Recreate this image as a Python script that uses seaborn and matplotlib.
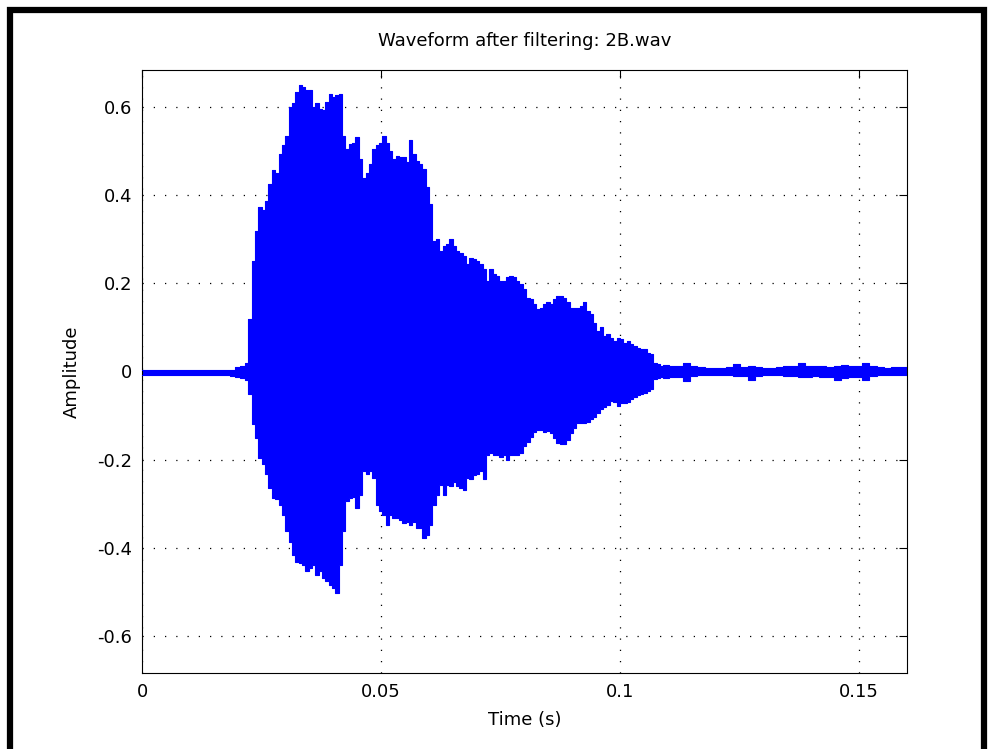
import matplotlib
matplotlib.use("Agg")
import matplotlib.pyplot as plt
import pandas as pd
import seaborn as sns
from matplotlib.patches import Rectangle

# Envelope of the filtered recording 2B.wav (seconds, amplitude)
# Quiet lead-in before the onset
lead_time = [0.000, 0.002, 0.004, 0.006, 0.008, 0.010, 0.012, 0.014,
             0.016, 0.018, 0.019, 0.020, 0.021, 0.0219]
lead_upper = [0.004, 0.003, 0.004, 0.003, 0.004, 0.004, 0.003, 0.004,
              0.004, 0.003, 0.004, 0.011, 0.012, 0.020]
lead_lower = [-0.007, -0.008, -0.007, -0.008, -0.008, -0.007, -0.008, -0.008,
              -0.007, -0.009, -0.010, -0.013, -0.014, -0.020]

# Main burst
burst_time = [
    0.0226, 0.0233, 0.0240, 0.0247, 0.0254, 0.0261, 0.0268, 0.0275, 0.0282, 0.0289,
    0.0296, 0.0303, 0.0310, 0.0317, 0.0324, 0.0331, 0.0338, 0.0345, 0.0352, 0.0359,
    0.0366, 0.0373, 0.0380, 0.0387, 0.0394, 0.0401, 0.0408, 0.0415, 0.0422, 0.0429,
    0.0436, 0.0443, 0.0450, 0.0457, 0.0464, 0.0471, 0.0478, 0.0485, 0.0492, 0.0499,
    0.0506, 0.0513, 0.0520, 0.0527, 0.0534, 0.0541, 0.0548, 0.0555, 0.0562, 0.0569,
    0.0576, 0.0583, 0.0590, 0.0597, 0.0604, 0.0611, 0.0618, 0.0625, 0.0632, 0.0639,
    0.0646, 0.0653, 0.0660, 0.0667, 0.0674, 0.0681, 0.0688, 0.0695, 0.0702, 0.0709,
    0.0716, 0.0723, 0.0730, 0.0737, 0.0744, 0.0751, 0.0758, 0.0765, 0.0772, 0.0779,
    0.0786, 0.0793, 0.0800, 0.0807, 0.0814, 0.0821, 0.0828, 0.0835, 0.0842, 0.0849,
    0.0856, 0.0863, 0.0870, 0.0877, 0.0884, 0.0891, 0.0898, 0.0905, 0.0912, 0.0919,
    0.0926, 0.0933, 0.0940, 0.0947, 0.0954, 0.0961, 0.0968, 0.0975, 0.0982, 0.0989,
    0.0996, 0.1003, 0.1010, 0.1017, 0.1024, 0.1031, 0.1038, 0.1045, 0.1052, 0.1059,
    0.1066, 0.1073, 0.1080, 0.1087]
burst_upper = [
    0.120, 0.250, 0.320, 0.373, 0.366, 0.388, 0.427, 0.457, 0.450, 0.495,
    0.514, 0.536, 0.601, 0.609, 0.635, 0.650, 0.647, 0.640, 0.639, 0.601,
    0.609, 0.597, 0.594, 0.612, 0.631, 0.624, 0.628, 0.631, 0.536, 0.505,
    0.517, 0.520, 0.533, 0.483, 0.440, 0.450, 0.472, 0.505, 0.514, 0.520,
    0.536, 0.520, 0.502, 0.483, 0.490, 0.487, 0.487, 0.476, 0.525, 0.495,
    0.479, 0.472, 0.460, 0.419, 0.381, 0.297, 0.300, 0.274, 0.285, 0.290,
    0.300, 0.286, 0.274, 0.270, 0.263, 0.244, 0.259, 0.255, 0.252, 0.244,
    0.233, 0.206, 0.233, 0.221, 0.217, 0.206, 0.206, 0.214, 0.217, 0.214,
    0.206, 0.199, 0.187, 0.168, 0.165, 0.153, 0.142, 0.145, 0.153, 0.157,
    0.153, 0.165, 0.172, 0.172, 0.168, 0.157, 0.145, 0.145, 0.145, 0.149,
    0.157, 0.138, 0.130, 0.111, 0.092, 0.100, 0.081, 0.085, 0.077, 0.069,
    0.077, 0.073, 0.065, 0.069, 0.062, 0.058, 0.054, 0.050, 0.050, 0.043,
    0.039, 0.020, 0.016, 0.012]
burst_lower = [
    -0.050, -0.120, -0.151, -0.196, -0.211, -0.234, -0.265, -0.287, -0.290, -0.303,
    -0.325, -0.363, -0.387, -0.416, -0.432, -0.436, -0.439, -0.454, -0.447, -0.439,
    -0.462, -0.454, -0.470, -0.477, -0.485, -0.492, -0.504, -0.439, -0.363, -0.295,
    -0.287, -0.284, -0.311, -0.280, -0.227, -0.234, -0.227, -0.242, -0.303, -0.318,
    -0.325, -0.348, -0.325, -0.333, -0.333, -0.337, -0.344, -0.341, -0.348, -0.341,
    -0.356, -0.356, -0.379, -0.371, -0.348, -0.303, -0.280, -0.257, -0.280, -0.257,
    -0.261, -0.250, -0.260, -0.265, -0.270, -0.242, -0.245, -0.236, -0.234, -0.227,
    -0.245, -0.189, -0.185, -0.190, -0.189, -0.195, -0.189, -0.200, -0.189, -0.190,
    -0.189, -0.185, -0.170, -0.160, -0.148, -0.138, -0.133, -0.132, -0.138, -0.136,
    -0.140, -0.150, -0.162, -0.164, -0.164, -0.155, -0.140, -0.128, -0.117, -0.117,
    -0.118, -0.115, -0.109, -0.103, -0.095, -0.086, -0.080, -0.075, -0.067, -0.069,
    -0.078, -0.071, -0.071, -0.069, -0.062, -0.058, -0.054, -0.050, -0.048, -0.045,
    -0.040, -0.018, -0.015, -0.013]

# Residual noise after the burst
tail_time = [0.1094, 0.1109, 0.1124, 0.1139, 0.1154, 0.1169, 0.1184, 0.1199,
             0.1214, 0.1229, 0.1244, 0.1259, 0.1274, 0.1289, 0.1304, 0.1319,
             0.1334, 0.1349, 0.1364, 0.1379, 0.1394, 0.1409, 0.1424, 0.1439,
             0.1454, 0.1469, 0.1484, 0.1499, 0.1514, 0.1529, 0.1544, 0.1559,
             0.1574, 0.1589, 0.1600]
tail_upper = [0.014, 0.013, 0.012, 0.020, 0.012, 0.010, 0.008, 0.009,
              0.008, 0.010, 0.018, 0.011, 0.012, 0.010, 0.009, 0.008,
              0.010, 0.012, 0.013, 0.019, 0.013, 0.012, 0.012, 0.011,
              0.013, 0.014, 0.012, 0.013, 0.020, 0.012, 0.010, 0.009,
              0.011, 0.010, 0.010]
tail_lower = [-0.014, -0.012, -0.013, -0.022, -0.011, -0.009, -0.007, -0.008,
              -0.007, -0.009, -0.010, -0.011, -0.019, -0.010, -0.009, -0.008,
              -0.009, -0.010, -0.011, -0.012, -0.012, -0.011, -0.013, -0.012,
              -0.020, -0.014, -0.013, -0.012, -0.019, -0.011, -0.009, -0.008,
              -0.009, -0.009, -0.009]

x_ticks = [0, 0.05, 0.1, 0.15]
x_tick_labels = ["0", "0.05", "0.1", "0.15"]
y_ticks = [-0.6, -0.4, -0.2, 0, 0.2, 0.4, 0.6]
y_tick_labels = ["-0.6", "-0.4", "-0.2", "0", "0.2", "0.4", "0.6"]

sns.set_style("white")
plt.rcParams["font.family"] = ["DejaVu Sans"]
plt.rcParams["text.color"] = "black"
plt.rcParams["axes.labelcolor"] = "black"

wave = pd.DataFrame({
    "time": lead_time + burst_time + tail_time,
    "upper": lead_upper + burst_upper + tail_upper,
    "lower": lead_lower + burst_lower + tail_lower,
})
edges = wave.melt(id_vars="time", value_vars=["upper", "lower"],
                  var_name="edge", value_name="amplitude")

W, H = 990, 749
fig = plt.figure(figsize=(W / 100, H / 100), dpi=100)
fig.patch.set_facecolor("white")
ax = fig.add_axes([142 / W, 1 - 673 / H, 765 / W, 603 / H])

blue = "#0000ff"
ax.fill_between(wave["time"], wave["lower"], wave["upper"], step="mid",
                color=blue, linewidth=0, zorder=2)
sns.lineplot(data=edges, x="time", y="amplitude", units="edge", estimator=None,
             color=blue, linewidth=0.8, drawstyle="steps-mid", ax=ax, zorder=3,
             legend=False)

ax.set_xlim(0, 0.16)
ax.set_ylim(-0.685, 0.685)
ax.set_xticks(x_ticks)
ax.set_xticklabels(x_tick_labels)
ax.set_yticks(y_ticks)
ax.set_yticklabels(y_tick_labels)

ax.set_axisbelow(True)
ax.grid(True, color="black", linestyle=(0, (1, 8)), linewidth=0.9)
ax.tick_params(direction="in", length=5.5, width=0.8, top=True, right=True,
               labelsize=13, colors="black", pad=7)
for sp in ax.spines.values():
    sp.set_visible(True)
    sp.set_color("black")
    sp.set_linewidth(0.8)

ax.set_title("Waveform after filtering: 2B.wav", fontsize=13, pad=17,
             color="black")
ax.set_xlabel("Time (s)", fontsize=13, color="black")
ax.set_ylabel("Amplitude", fontsize=13, color="black")
ax.xaxis.label.set_va("center")
ax.xaxis.set_label_coords(0.5, (673 - 720) / 603)
ax.yaxis.label.set_va("center")
ax.yaxis.set_label_coords((72 - 142) / 765, 0.5)

# Heavy window frame around the figure
fig.add_artist(Rectangle((10 / W, -0.05), (984 - 10) / W, 1.05 - 10 / H,
                         transform=fig.transFigure, fill=False,
                         edgecolor="black", linewidth=4.5, clip_on=False))

fig.savefig("out.png", dpi=100)
